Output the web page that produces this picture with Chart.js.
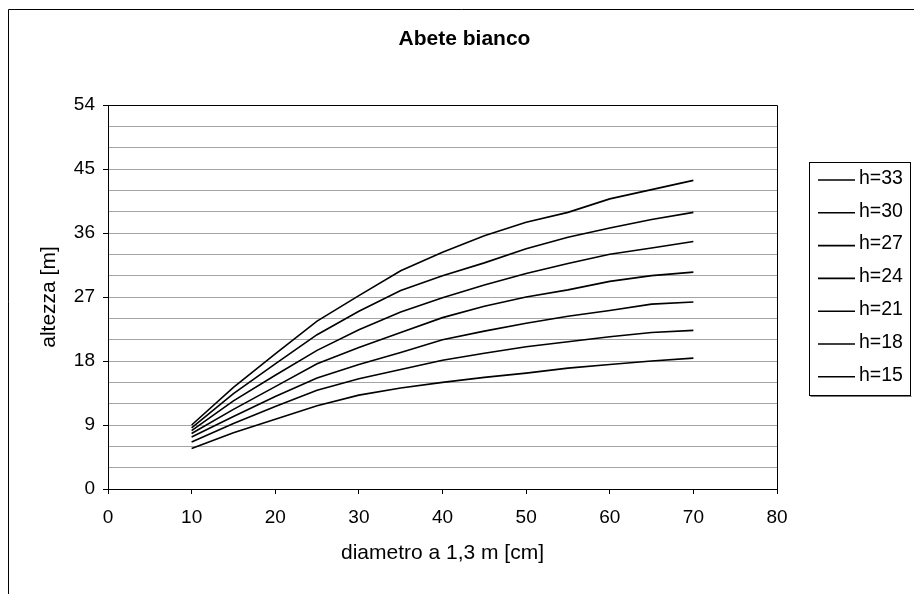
<!DOCTYPE html>
<html><head><meta charset="utf-8">
<script src="https://cdn.jsdelivr.net/npm/chart.js@4.4.1/dist/chart.umd.min.js"></script>
<style>html,body{margin:0;padding:0;background:#fff;}canvas{display:block;}</style>
</head><body>
<canvas id="c" width="914" height="594"></canvas>
<script>
// ---- data ----
const diameters = [10, 15, 20, 25, 30, 35, 40, 45, 50, 55, 60, 65, 70];
const h33 = [9.0, 14.3, 19.0, 23.6, 27.2, 30.7, 33.3, 35.6, 37.5, 38.9, 40.8, 42.1, 43.4];
const h30 = [8.6, 13.4, 17.6, 21.7, 25.0, 27.9, 30.0, 31.8, 33.8, 35.4, 36.7, 37.9, 38.9];
const h27 = [8.2, 12.4, 16.0, 19.5, 22.4, 24.9, 26.9, 28.7, 30.3, 31.7, 33.0, 33.9, 34.8];
const h24 = [7.8, 11.2, 14.4, 17.6, 19.9, 22.0, 24.1, 25.7, 27.0, 28.0, 29.2, 30.0, 30.5];
const h21 = [7.3, 10.2, 13.0, 15.6, 17.5, 19.2, 21.0, 22.2, 23.3, 24.3, 25.1, 26.0, 26.3];
const h18 = [6.6, 9.2, 11.6, 13.9, 15.5, 16.8, 18.1, 19.1, 20.0, 20.7, 21.4, 22.0, 22.3];
const h15 = [5.7, 7.9, 9.8, 11.7, 13.2, 14.2, 15.0, 15.7, 16.3, 17.0, 17.5, 18.0, 18.4];
const seriesLabels = ['h=33', 'h=30', 'h=27', 'h=24', 'h=21', 'h=18', 'h=15'];
const seriesValues = [h33, h30, h27, h24, h21, h18, h15];
const xTickStep = 10;
const yMajorStep = 9;
const yMinorStep = 3;

const FONT = "'Liberation Sans', Arial, sans-serif";

const datasets = seriesLabels.map((lab, i) => ({
  label: lab,
  data: diameters.map((d, j) => ({ x: d, y: seriesValues[i][j] })),
  borderColor: '#000',
  borderWidth: 1.6,
  pointRadius: 0,
  tension: 0,
  fill: false
}));

const framePlugin = {
  id: 'frame',
  afterLayout(chart) {
    const t = chart.titleBlock;
    if (t) { t.left = 15; t.right = chart.width; t.width = t.right - t.left; }
  },
  beforeDraw(chart) {
    const ctx = chart.ctx;
    ctx.save();
    ctx.fillStyle = '#fff';
    ctx.fillRect(0, 0, chart.width, chart.height);
    ctx.strokeStyle = '#000';
    ctx.lineWidth = 1;
    ctx.beginPath();
    ctx.moveTo(8.5, chart.height);
    ctx.lineTo(8.5, 9.5);
    ctx.lineTo(chart.width, 9.5);
    ctx.stroke();
    ctx.restore();
  },
  afterDraw(chart) {
    const ctx = chart.ctx;
    const a = chart.chartArea;
    ctx.save();
    ctx.strokeStyle = '#000';
    ctx.lineWidth = 1;
    ctx.beginPath();
    ctx.moveTo(Math.round(a.left) + 0.5, Math.round(a.top) + 0.5);
    ctx.lineTo(Math.round(a.right) + 0.5, Math.round(a.top) + 0.5);
    ctx.lineTo(Math.round(a.right) + 0.5, Math.round(a.bottom) + 0.5);
    ctx.stroke();
    // legend
    const bx = 809.5, by = 162.5, bw = 101, bh = 233;
    ctx.strokeStyle = '#000';
    ctx.strokeRect(bx, by, bw, bh);
    ctx.strokeStyle = '#777';
    ctx.beginPath();
    ctx.moveTo(bx + 1, by + bh + 1);
    ctx.lineTo(bx + bw + 1, by + bh + 1);
    ctx.stroke();
    ctx.font = '19.5px ' + FONT;
    ctx.fillStyle = '#000';
    ctx.textBaseline = 'middle';
    ctx.textAlign = 'left';
    chart.data.datasets.forEach((ds, i) => {
      const cy = 178.5 + i * 32.8;
      ctx.strokeStyle = '#000';
      ctx.lineWidth = 1.6;
      ctx.beginPath();
      ctx.moveTo(818, cy + 1.5);
      ctx.lineTo(855, cy + 1.5);
      ctx.stroke();
      ctx.fillText(ds.label, 859, cy);
    });
    ctx.restore();
  }
};

new Chart(document.getElementById('c'), {
  type: 'line',
  data: { datasets },
  plugins: [framePlugin],
  options: {
    responsive: false,
    animation: false,
    devicePixelRatio: 1,
    layout: { padding: { left: 33, top: 9, right: 137, bottom: 25 } },
    plugins: {
      legend: { display: false },
      tooltip: { enabled: false },
      title: {
        display: true,
        text: 'Abete bianco',
        color: '#000',
        font: { family: FONT, size: 21, weight: 'bold' },
        padding: { top: 17.5, bottom: 53.3 }
      }
    },
    scales: {
      x: {
        type: 'linear',
        min: 0, max: 80,
        afterFit(s) { s.height = 80; },
        ticks: { stepSize: xTickStep, color: '#000', padding: 12, maxRotation: 0,
                 font: { family: FONT, size: 19 } },
        grid: { drawOnChartArea: false, drawTicks: true, tickLength: 5, tickColor: '#000' },
        border: { display: true, color: '#000', width: 1 },
        title: { display: true, text: 'diametro a 1,3 m [cm]', color: '#000',
                 font: { family: FONT, size: 21 }, padding: { top: 4, bottom: 3 } }
      },
      y: {
        min: 0, max: 54,
        afterFit(s) { s.width = 75; },
        ticks: {
          stepSize: yMinorStep, autoSkip: false, color: '#000', padding: 8,
          font: { family: FONT, size: 19 },
          callback: v => (v % yMajorStep === 0 ? String(v) : '')
        },
        grid: {
          color: '#a4a4a4', lineWidth: 1, tickLength: 5,
          tickColor: c => (c.tick && c.tick.value % yMajorStep === 0 ? '#000' : 'rgba(0,0,0,0)')
        },
        border: { display: true, color: '#000', width: 1 },
        title: { display: true, text: 'altezza [m]', color: '#000',
                 font: { family: FONT, size: 21 }, padding: { top: 4, bottom: 4 } }
      }
    }
  }
});
</script>
</body></html>
